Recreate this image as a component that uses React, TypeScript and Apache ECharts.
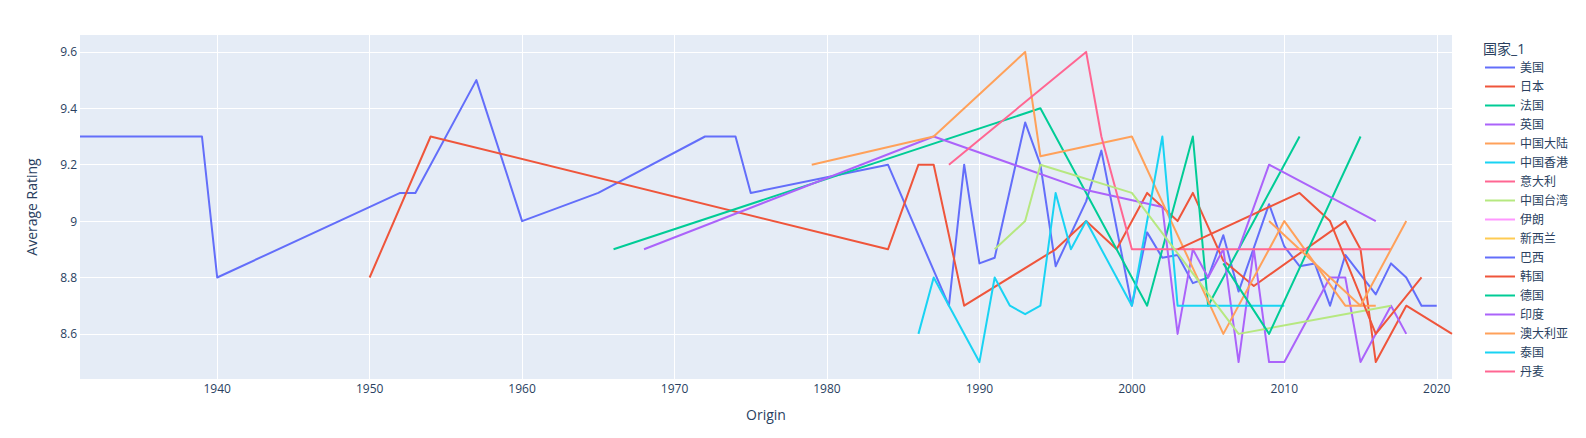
import React, { useEffect, useRef } from "react";
import * as echarts from "echarts";

const FONT = '"Open Sans", "Noto Sans CJK SC", verdana, arial, sans-serif';
const TEXT = "#2a3f5f";

const countries = [
  "美国", "日本", "法国", "英国", "中国大陆", "中国香港", "意大利", "中国台湾", "伊朗",
  "新西兰", "巴西", "韩国", "德国", "印度", "澳大利亚", "泰国", "丹麦",
];

const colors = [
  "#636efa", "#EF553B", "#00cc96", "#ab63fa", "#FFA15A", "#19d3f3", "#FF6692", "#B6E880", "#FF97FF",
  "#FECB52", "#636efa", "#EF553B", "#00cc96", "#ab63fa", "#FFA15A", "#19d3f3", "#FF6692",
];

const xTicks = [1940, 1950, 1960, 1970, 1980, 1990, 2000, 2010, 2020];
const yTicks = [8.6, 8.8, 9, 9.2, 9.4, 9.6];

const usa = [
  [1931, 9.3], [1939, 9.3], [1940, 8.8], [1952, 9.1], [1953, 9.1], [1957, 9.5], [1960, 9.0],
  [1965, 9.1], [1972, 9.3], [1974, 9.3], [1975, 9.1], [1984, 9.2], [1988, 8.7], [1989, 9.2],
  [1990, 8.85], [1991, 8.87], [1993, 9.35], [1994, 9.2], [1995, 8.84], [1997, 9.07], [1998, 9.25],
  [2000, 8.7], [2001, 8.96], [2002, 8.87], [2003, 8.88], [2004, 8.78], [2005, 8.8], [2006, 8.95],
  [2007, 8.75], [2009, 9.06], [2010, 8.91], [2011, 8.84], [2012, 8.85], [2013, 8.7], [2014, 8.88],
  [2016, 8.74], [2017, 8.85], [2018, 8.8], [2019, 8.7], [2020, 8.7],
];
const japan = [
  [1950, 8.8], [1954, 9.3], [1984, 8.9], [1986, 9.2], [1987, 9.2], [1989, 8.7], [1995, 8.9],
  [1997, 9.0], [1999, 8.9], [2001, 9.1], [2003, 9.0], [2004, 9.1], [2006, 8.86], [2008, 8.77],
  [2014, 9.0], [2015, 8.9], [2016, 8.5], [2018, 8.7], [2021, 8.6],
];
const france = [[1966, 8.9], [1994, 9.4], [2001, 8.7], [2004, 9.3], [2005, 8.7], [2011, 9.3]];
const uk = [
  [1968, 8.9], [1987, 9.3], [1997, 9.11], [2002, 9.05], [2003, 8.6], [2004, 8.9], [2005, 8.8],
  [2006, 8.9], [2007, 8.5], [2008, 8.9], [2009, 8.5], [2010, 8.5], [2013, 8.8], [2014, 8.8],
  [2015, 8.5], [2017, 8.7], [2018, 8.6],
];
const mainland = [
  [1979, 9.2], [1987, 9.3], [1993, 9.6], [1994, 9.23], [2000, 9.3], [2006, 8.6], [2010, 9.0],
  [2014, 8.7], [2016, 8.7],
];
const hongkong = [
  [1986, 8.6], [1987, 8.8], [1990, 8.5], [1991, 8.8], [1992, 8.7], [1993, 8.67], [1994, 8.7],
  [1995, 9.1], [1996, 8.9], [1997, 9.0], [2000, 8.7], [2002, 9.3], [2003, 8.7], [2010, 8.7],
];
const italy = [[1988, 9.2], [1997, 9.6], [1998, 9.3], [2000, 8.9], [2017, 8.9]];
const taiwan = [[1991, 8.9], [1993, 9.0], [1994, 9.2], [2000, 9.1], [2007, 8.6], [2017, 8.7]];
const iran = [[1997, 9.2]];
const newZealand = [[2003, 9.3]];
const brazil = [[2002, 8.9]];
const korea = [[2003, 8.9], [2011, 9.1], [2013, 9.0], [2016, 8.6], [2019, 8.8]];
const germany = [[2006, 8.85], [2009, 8.6], [2015, 9.3]];
const india = [[2007, 8.9], [2009, 9.2], [2016, 9.0]];
const australia = [[2009, 9.0], [2015, 8.7], [2018, 9.0]];
const thailand = [[2010, 8.7]];
const denmark = [[2012, 9.1]];

const seriesData = [
  usa, japan, france, uk, mainland, hongkong, italy, taiwan, iran,
  newZealand, brazil, korea, germany, india, australia, thailand, denmark,
];

export default function App() {
  const ref = useRef<HTMLDivElement>(null);
  useEffect(() => {
    if (!ref.current) return;
    const chart = echarts.init(ref.current, null, { renderer: "svg" });
    const option: any = {
      animation: false,
      color: colors,
      textStyle: { fontFamily: FONT },
      title: {
        text: "国家_1",
        left: 1483,
        top: 41,
        padding: 0,
        textStyle: { fontSize: 14, fontWeight: "normal", color: TEXT, fontFamily: FONT },
      },
      legend: {
        orient: "vertical",
        left: 1485,
        top: 58,
        padding: 0,
        icon: "rect",
        itemWidth: 30,
        itemHeight: 2,
        itemGap: 0,
        textStyle: { fontSize: 12, color: TEXT, lineHeight: 19, fontFamily: FONT },
        data: countries,
      },
      grid: {
        left: 80,
        top: 35,
        width: 1372,
        height: 344,
        show: true,
        backgroundColor: "#E5ECF6",
        borderWidth: 0,
      },
      xAxis: {
        type: "value",
        min: 1931,
        max: 2021,
        name: "Origin",
        nameLocation: "middle",
        nameGap: 28,
        nameTextStyle: { fontSize: 14, color: TEXT, fontFamily: FONT },
        axisLine: { show: false },
        axisTick: { show: false, customValues: xTicks },
        axisLabel: {
          customValues: xTicks,
          margin: 3,
          fontSize: 12,
          color: TEXT,
          fontFamily: FONT,
          formatter: (v: number) => String(v),
        },
        splitLine: { show: true, lineStyle: { color: "#ffffff", width: 1 } },
      },
      yAxis: {
        type: "value",
        min: 8.44,
        max: 9.66,
        name: "Average Rating",
        nameLocation: "middle",
        nameGap: 42,
        nameTextStyle: { fontSize: 14, color: TEXT, fontFamily: FONT },
        axisLine: { show: false },
        axisTick: { show: false, customValues: yTicks },
        axisLabel: {
          customValues: yTicks,
          margin: 3,
          fontSize: 12,
          color: TEXT,
          fontFamily: FONT,
          formatter: (v: number) => String(v),
        },
        splitLine: { show: true, lineStyle: { color: "#ffffff", width: 1 } },
      },
      series: countries.map((name, i) => ({
        name,
        type: "line",
        data: seriesData[i],
        showSymbol: false,
        symbol: "none",
        lineStyle: { width: 2, color: colors[i], join: "round" },
        itemStyle: { color: colors[i] },
        emphasis: { disabled: true },
      })),
    };
    chart.setOption(option);
    return () => chart.dispose();
  }, []);
  return (
    <div
      ref={ref}
      style={{ position: "absolute", left: 0, top: 0, width: 1586, height: 438, background: "#fff" }}
    />
  );
}
